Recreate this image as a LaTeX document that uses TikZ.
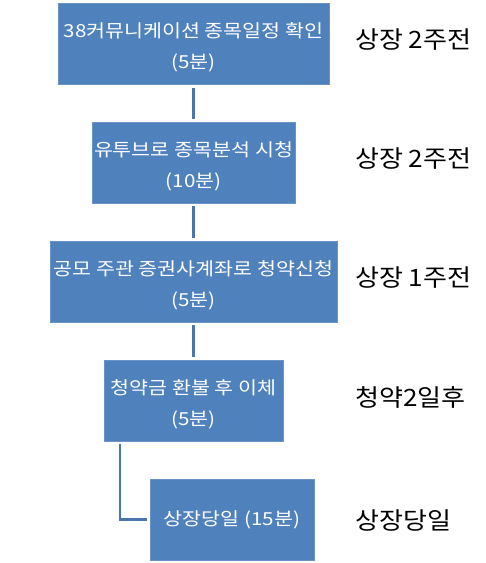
\documentclass[tikz,border=0pt]{standalone}
\usepackage{fontspec}
\setmainfont{Noto Sans CJK KR}
\newfontfamily\boxfont[FakeStretch=1.15]{Noto Sans CJK KR}
\newfontfamily\sidefont[FakeStretch=1.09]{Noto Sans CJK KR}
\newcommand\topstrut{\rule{0pt}{22bp}}
\definecolor{boxblue}{HTML}{4F81BD}
\definecolor{boxedge}{HTML}{6A93C6}
\definecolor{linkblue}{HTML}{4A76AC}
\tikzset{
  stepbox/.style={draw=boxedge, line width=0.8bp, fill=boxblue, text=white, align=center,
    minimum height=81bp, inner sep=0pt, font=\boxfont\fontsize{18}{31}\selectfont},
  sidelabel/.style={anchor=west, inner sep=0pt, font=\sidefont\fontsize{24}{28}\selectfont},
  link/.style={draw=linkblue, line width=2.2bp}
}
\begin{document}
\begin{tikzpicture}[x=1bp,y=-1bp]
\useasboundingbox (0,0) rectangle (486,563);
\node[stepbox, minimum width=271bp] (b1) at (193.5,44) {\topstrut{}38커뮤니케이션 종목일정 확인\\(5분)};
\node[stepbox, minimum width=203bp] (b2) at (193.5,162.5) {\topstrut{}유투브로 종목분석 시청\\(10분)};
\node[stepbox, minimum width=287bp] (b3) at (193.5,281.5) {\topstrut{}공모 주관 증권사계좌로 청약신청\\(5분)};
\node[stepbox, minimum width=179bp] (b4) at (193.5,400.5) {\topstrut{}청약금 환불 후 이체\\(5분)};
\node[stepbox, minimum width=164bp] (b5) at (232,519.5) {상장당일 (15분)};

\node[sidelabel] (l1) at (355,40) {상장 2주전};
\node[sidelabel] (l2) at (355,159) {상장 2주전};
\node[sidelabel] (l3) at (355,278) {상장 1주전};
\node[sidelabel] (l4) at (355,397) {청약2일후};
\node[sidelabel] (l5) at (355,521) {상장당일};

\draw[link, shorten <=3bp, shorten >=3bp] (b1.south) -- (b2.north);
\draw[link, shorten <=3bp, shorten >=3bp] (b2.south) -- (b3.north);
\draw[link, shorten <=3bp, shorten >=3bp] (b3.south) -- (b4.north);
\draw[link] ([xshift=16bp,yshift=-3bp]b4.south west) |- ([xshift=-3bp]b5.west);
\end{tikzpicture}
\end{document}
